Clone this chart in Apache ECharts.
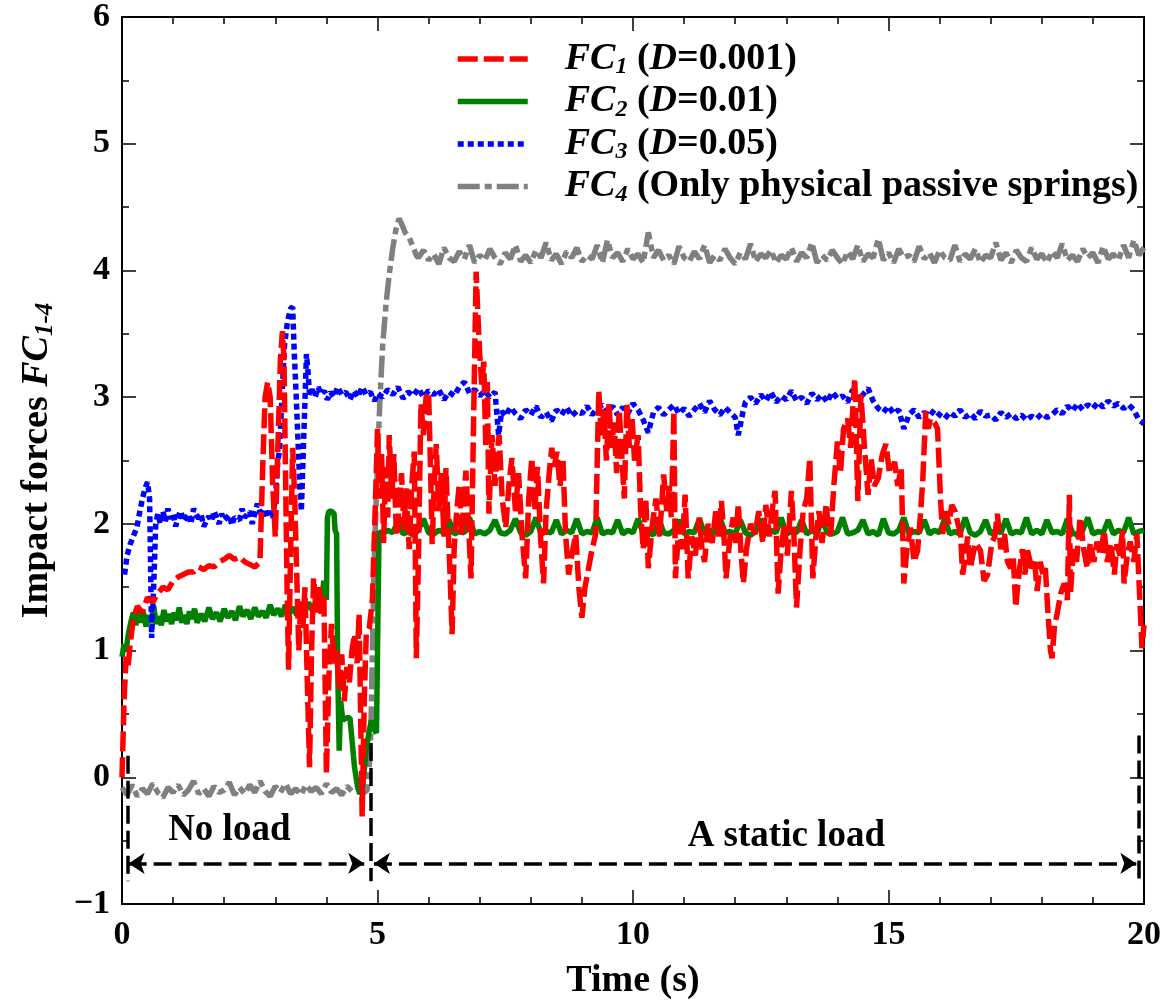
<!DOCTYPE html>
<html>
<head>
<meta charset="utf-8">
<script src="https://cdn.jsdelivr.net/npm/echarts@6/dist/echarts.min.js"></script>
<style>html,body{margin:0;padding:0;background:#fff}#c{width:1164px;height:1005px}</style>
</head>
<body>
<div id="c"></div>
<script>
// ---- data (time s, force) ----
const fc1 = [[0,0.0],[0.04,0.6],[0.08,0.95],[0.12,0.88],[0.16,1.05],[0.22,1.25],[0.3,1.35],[0.4,1.3],[0.5,1.42],[0.6,1.38],[0.7,1.45],[0.8,1.5],[0.9,1.48],[1.0,1.55],[1.1,1.58],[1.2,1.6],[1.3,1.62],[1.4,1.62],[1.5,1.66],[1.6,1.64],[1.7,1.67],[1.8,1.66],[1.9,1.7],[2.0,1.72],[2.1,1.75],[2.2,1.72],[2.3,1.74],[2.4,1.7],[2.5,1.68],[2.6,1.66],[2.7,1.7],[2.75,2.4],[2.8,3.0],[2.85,3.12],[2.9,3.0],[2.95,2.3],[3.0,1.9],[3.05,2.6],[3.1,3.3],[3.14,3.52],[3.17,3.3],[3.2,2.4],[3.23,1.5],[3.26,0.85],[3.3,1.8],[3.34,2.6],[3.38,2.2],[3.42,1.6],[3.46,1.0],[3.5,1.4],[3.54,1.18],[3.58,1.5],[3.63,0.7],[3.67,0.08],[3.71,1.0],[3.75,1.57],[3.8,1.3],[3.85,1.5],[3.9,1.29],[3.95,1.45],[4.0,0.03],[4.05,0.8],[4.1,1.21],[4.15,0.9],[4.2,1.0],[4.25,0.7],[4.3,0.97],[4.35,0.6],[4.4,0.87],[4.45,0.75],[4.5,1.0],[4.55,1.13],[4.6,0.9],[4.64,1.29],[4.7,-0.31],[4.74,0.6],[4.78,1.13],[4.84,1.18],[4.9,1.4],[4.96,2.18],[5.0,2.75],[5.04,2.2],[5.08,2.55],[5.12,1.85],[5.16,2.45],[5.2,2.05],[5.23,2.7],[5.28,2.2],[5.32,2.55],[5.37,1.9],[5.42,2.1],[5.47,2.4],[5.52,1.95],[5.56,2.28],[5.62,1.8],[5.67,2.3],[5.72,2.57],[5.76,0.94],[5.8,1.7],[5.85,2.95],[5.9,2.7],[5.95,3.0],[6.0,3.04],[6.04,2.4],[6.07,1.84],[6.11,2.3],[6.15,2.63],[6.2,2.1],[6.25,2.4],[6.3,1.9],[6.34,2.44],[6.38,2.0],[6.42,1.6],[6.46,1.13],[6.5,1.8],[6.55,2.1],[6.6,2.31],[6.65,1.9],[6.69,2.2],[6.73,2.42],[6.78,2.0],[6.83,1.57],[6.88,2.8],[6.93,3.99],[6.97,3.6],[7.0,3.34],[7.04,3.1],[7.08,3.28],[7.12,2.6],[7.15,3.12],[7.18,2.08],[7.24,2.7],[7.3,2.3],[7.34,2.55],[7.38,2.7],[7.44,2.2],[7.51,1.97],[7.57,2.3],[7.63,2.52],[7.7,2.1],[7.76,2.4],[7.83,1.9],[7.9,1.57],[7.96,2.2],[8.02,2.52],[8.08,2.1],[8.13,2.45],[8.19,1.9],[8.25,1.53],[8.3,2.1],[8.36,2.4],[8.41,2.6],[8.46,2.45],[8.51,2.57],[8.57,2.3],[8.63,2.5],[8.68,1.92],[8.74,1.6],[8.8,1.75],[8.88,1.92],[8.94,1.5],[9.0,1.26],[9.06,1.5],[9.13,1.65],[9.2,1.8],[9.27,1.92],[9.3,2.5],[9.33,3.05],[9.38,2.7],[9.43,2.9],[9.48,2.5],[9.53,2.95],[9.58,2.6],[9.63,2.8],[9.68,2.4],[9.73,2.9],[9.78,2.55],[9.83,2.2],[9.88,2.95],[9.93,2.6],[9.98,2.85],[10.03,2.5],[10.1,2.7],[10.15,2.1],[10.2,1.8],[10.25,2.2],[10.3,1.65],[10.38,2.0],[10.45,2.2],[10.52,1.9],[10.6,2.39],[10.66,2.1],[10.71,2.3],[10.75,2.05],[10.8,2.89],[10.83,1.57],[10.9,2.0],[10.96,1.8],[11.02,2.23],[11.08,1.57],[11.15,1.9],[11.22,1.75],[11.3,2.05],[11.35,1.8],[11.4,1.7],[11.47,2.0],[11.55,1.85],[11.62,2.1],[11.68,1.9],[11.73,2.18],[11.78,1.9],[11.82,1.57],[11.9,1.9],[11.96,2.05],[12.01,1.85],[12.06,2.16],[12.11,1.8],[12.16,1.53],[12.22,1.8],[12.3,2.0],[12.39,1.92],[12.46,2.1],[12.54,1.85],[12.6,2.15],[12.67,1.9],[12.72,2.1],[12.78,2.26],[12.84,1.45],[12.9,1.8],[12.96,2.0],[13.02,1.75],[13.1,2.26],[13.15,1.9],[13.2,1.34],[13.27,1.8],[13.33,2.1],[13.4,2.2],[13.46,2.52],[13.52,1.57],[13.58,1.9],[13.64,2.1],[13.7,1.85],[13.78,2.16],[13.83,1.92],[13.87,1.92],[13.93,2.3],[14.0,2.65],[14.06,2.4],[14.12,2.75],[14.2,2.83],[14.26,2.6],[14.3,2.9],[14.34,3.15],[14.4,2.18],[14.46,3.02],[14.53,2.6],[14.6,2.23],[14.66,2.52],[14.72,2.3],[14.8,2.36],[14.88,2.55],[14.95,2.63],[15.02,2.4],[15.12,2.49],[15.18,2.3],[15.25,2.44],[15.3,1.53],[15.36,1.8],[15.43,1.97],[15.5,1.7],[15.57,1.79],[15.63,2.1],[15.67,2.34],[15.73,2.89],[15.78,2.75],[15.82,2.83],[15.9,2.8],[15.96,2.75],[16.02,2.18],[16.06,1.92],[16.12,2.1],[16.18,2.0],[16.24,2.15],[16.3,2.1],[16.36,2.0],[16.41,1.92],[16.45,1.6],[16.49,1.7],[16.55,1.9],[16.6,1.65],[16.7,1.85],[16.8,1.79],[16.87,1.55],[16.94,1.6],[17.02,1.85],[17.08,1.9],[17.13,2.08],[17.2,1.8],[17.27,1.92],[17.33,1.7],[17.39,1.65],[17.44,1.75],[17.49,1.34],[17.55,1.6],[17.62,1.8],[17.67,1.6],[17.72,1.79],[17.8,1.65],[17.86,1.7],[17.91,1.47],[17.97,1.7],[18.02,1.6],[18.07,1.65],[18.12,1.3],[18.17,1.0],[18.2,0.94],[18.25,1.2],[18.3,1.29],[18.37,1.45],[18.44,1.53],[18.5,1.4],[18.54,2.23],[18.56,1.45],[18.62,1.8],[18.68,1.7],[18.75,2.05],[18.82,1.8],[18.89,1.65],[18.95,1.85],[19.02,1.7],[19.08,1.86],[19.15,1.75],[19.22,1.95],[19.28,1.7],[19.35,1.85],[19.42,1.6],[19.47,1.84],[19.53,1.75],[19.58,1.95],[19.61,1.53],[19.67,1.75],[19.73,1.86],[19.8,1.7],[19.86,1.92],[19.92,1.39],[19.96,1.02],[20.0,1.2]];

const fc2 = [[0,0.95],[0.04,1.05],[0.08,1.0],[0.12,1.12],[0.17,1.22],[0.22,1.3],[0.27,1.2],[0.32,1.33],[0.37,1.22],[0.42,1.3],[0.47,1.19],[0.52,1.28],[0.57,1.22],[0.62,1.35],[0.67,1.21],[0.72,1.27],[0.77,1.2],[0.82,1.32],[0.87,1.23],[0.92,1.29],[0.97,1.21],[1.02,1.3],[1.07,1.24],[1.12,1.34],[1.17,1.22],[1.22,1.28],[1.27,1.21],[1.32,1.31],[1.37,1.25],[1.42,1.33],[1.47,1.22],[1.55,1.29],[1.62,1.23],[1.7,1.34],[1.77,1.25],[1.85,1.3],[1.92,1.23],[2.0,1.33],[2.07,1.26],[2.15,1.31],[2.22,1.24],[2.3,1.35],[2.37,1.27],[2.45,1.32],[2.52,1.25],[2.6,1.34],[2.67,1.27],[2.75,1.31],[2.82,1.26],[2.9,1.36],[2.97,1.28],[3.05,1.33],[3.12,1.27],[3.2,1.36],[3.27,1.29],[3.35,1.34],[3.42,1.28],[3.5,1.37],[3.57,1.3],[3.65,1.38],[3.72,1.32],[3.8,1.39],[3.86,1.33],[3.9,1.38],[3.95,1.55],[4.0,1.4],[4.02,2.05],[4.05,2.1],[4.1,2.1],[4.15,2.08],[4.17,1.95],[4.2,1.92],[4.22,0.9],[4.25,0.21],[4.28,0.6],[4.32,0.45],[4.4,0.47],[4.46,0.47],[4.5,0.3],[4.55,0.08],[4.6,-0.05],[4.65,-0.13],[4.7,-0.1],[4.75,0.1],[4.78,0.21],[4.83,0.35],[4.88,0.45],[4.93,0.38],[4.98,0.35],[5.0,1.0],[5.03,1.94],[5.1,1.92],[5.2,1.95],[5.3,1.93],[5.4,2.02],[5.5,1.92],[5.6,1.94],[5.7,1.91],[5.8,1.95],[5.9,2.04],[6.0,1.93],[6.1,1.92],[6.2,1.95],[6.3,1.93],[6.4,2.03],[6.5,1.92],[6.6,1.94],[6.7,1.93],[6.8,2.05],[6.9,1.92],[7.0,1.94],[7.1,1.92],[7.2,1.95],[7.3,2.03],[7.4,1.93],[7.5,1.92],[7.6,1.95],[7.7,2.04],[7.8,1.93],[7.9,1.91],[8.0,1.94],[8.1,2.05],[8.2,1.92],[8.3,1.94],[8.4,1.93],[8.5,2.03],[8.6,1.92],[8.7,1.95],[8.8,1.93],[8.9,2.04],[9.0,1.92],[9.1,1.94],[9.2,1.93],[9.3,2.05],[9.4,1.92],[9.5,1.94],[9.6,1.93],[9.7,2.03],[9.8,1.92],[9.9,1.95],[10.0,1.93],[10.1,2.04],[10.2,1.92],[10.3,1.94],[10.4,1.91],[10.5,2.05],[10.6,1.93],[10.7,1.92],[10.8,1.95],[10.9,2.03],[11.0,1.92],[11.1,1.94],[11.2,1.93],[11.3,2.04],[11.4,1.92],[11.5,1.95],[11.6,1.92],[11.7,2.05],[11.8,1.93],[11.9,1.94],[12.0,1.92],[12.1,2.03],[12.2,1.93],[12.3,1.91],[12.4,1.94],[12.5,2.04],[12.6,1.92],[12.7,1.95],[12.8,1.93],[12.9,2.05],[13.0,1.92],[13.1,1.94],[13.2,1.93],[13.3,2.03],[13.4,1.92],[13.5,1.95],[13.6,1.92],[13.7,2.04],[13.8,1.93],[13.9,1.92],[14.0,1.94],[14.1,2.05],[14.2,1.92],[14.3,1.93],[14.4,1.95],[14.5,2.03],[14.6,1.92],[14.7,1.94],[14.8,1.91],[14.9,2.04],[15.0,1.93],[15.1,1.92],[15.2,1.95],[15.3,2.05],[15.4,1.92],[15.5,1.94],[15.6,1.93],[15.7,2.03],[15.8,1.92],[15.9,1.95],[16.0,1.93],[16.1,2.04],[16.2,1.92],[16.3,1.94],[16.4,1.92],[16.5,2.05],[16.6,1.93],[16.7,1.91],[16.8,1.94],[16.9,2.03],[17.0,1.92],[17.1,1.95],[17.2,1.93],[17.3,2.04],[17.4,1.92],[17.5,1.94],[17.6,1.93],[17.7,2.05],[17.8,1.92],[17.9,1.95],[18.0,1.92],[18.1,2.03],[18.2,1.93],[18.3,1.94],[18.4,1.92],[18.5,2.04],[18.6,1.93],[18.7,1.91],[18.8,1.95],[18.9,2.05],[19.0,1.92],[19.1,1.94],[19.2,1.93],[19.3,2.03],[19.4,1.92],[19.5,1.95],[19.6,1.93],[19.7,2.05],[19.8,1.92],[19.9,1.94],[20.0,1.95]];

const fc3 = [[0.05,1.6],[0.1,1.75],[0.16,1.84],[0.22,1.9],[0.29,1.97],[0.35,2.1],[0.4,2.2],[0.45,2.28],[0.5,2.33],[0.54,2.2],[0.58,1.1],[0.62,1.5],[0.66,2.0],[0.7,2.08],[0.75,2.0],[0.8,2.1],[0.85,2.02],[0.9,2.12],[0.95,2.04],[1.0,2.08],[1.05,1.98],[1.1,2.06],[1.15,2.1],[1.2,2.02],[1.3,2.08],[1.35,2.0],[1.4,2.12],[1.5,2.04],[1.55,2.07],[1.6,1.98],[1.7,2.06],[1.75,2.02],[1.8,2.1],[1.9,2.0],[1.95,2.08],[2.0,2.03],[2.1,2.07],[2.15,1.99],[2.2,2.05],[2.3,2.03],[2.35,2.12],[2.4,2.05],[2.5,2.1],[2.55,2.0],[2.6,2.08],[2.65,2.16],[2.7,2.1],[2.75,2.05],[2.8,2.12],[2.85,2.05],[2.9,2.1],[2.95,2.05],[3.0,2.2],[3.05,2.5],[3.08,2.57],[3.13,3.0],[3.18,3.41],[3.24,3.6],[3.3,3.7],[3.34,3.71],[3.37,3.36],[3.41,3.0],[3.44,2.7],[3.48,2.3],[3.51,2.1],[3.55,2.6],[3.61,3.34],[3.64,3.2],[3.67,3.02],[3.72,3.06],[3.78,3.0],[3.84,3.08],[3.9,3.02],[3.96,3.05],[4.02,2.98],[4.08,3.04],[4.15,3.0],[4.22,3.08],[4.3,3.02],[4.38,3.04],[4.46,2.98],[4.54,3.05],[4.62,3.0],[4.7,3.08],[4.78,3.02],[4.86,3.04],[4.94,2.97],[5.0,3.03],[5.1,3.0],[5.2,3.06],[5.3,3.02],[5.4,3.08],[5.5,2.99],[5.6,3.04],[5.7,3.01],[5.8,3.07],[5.9,3.0],[6.0,3.05],[6.1,3.02],[6.2,3.06],[6.3,2.98],[6.4,3.04],[6.5,3.01],[6.6,3.08],[6.7,3.12],[6.8,3.03],[6.9,3.06],[7.0,3.01],[7.1,3.05],[7.2,3.0],[7.3,3.04],[7.37,2.7],[7.43,2.89],[7.5,2.85],[7.6,2.92],[7.7,2.87],[7.8,2.83],[7.9,2.9],[8.0,2.86],[8.1,2.93],[8.2,2.84],[8.3,2.88],[8.4,2.81],[8.5,2.9],[8.6,2.86],[8.7,2.92],[8.8,2.85],[8.9,2.89],[9.0,2.87],[9.1,2.93],[9.2,2.86],[9.3,2.91],[9.4,2.94],[9.5,2.88],[9.6,2.93],[9.7,2.86],[9.8,2.92],[9.9,2.87],[10.0,2.95],[10.1,2.9],[10.2,2.82],[10.3,2.72],[10.4,2.88],[10.5,2.92],[10.6,2.86],[10.7,2.9],[10.8,2.94],[10.9,2.87],[11.0,2.91],[11.1,2.85],[11.2,2.9],[11.3,2.95],[11.4,2.88],[11.5,2.97],[11.6,2.9],[11.7,2.86],[11.8,2.92],[11.9,2.88],[12.0,2.84],[12.06,2.7],[12.15,2.88],[12.2,2.96],[12.3,3.0],[12.4,2.95],[12.5,3.02],[12.6,2.97],[12.7,3.04],[12.8,2.96],[12.9,3.01],[13.0,2.98],[13.1,3.05],[13.2,2.97],[13.3,3.0],[13.4,2.95],[13.5,3.03],[13.6,2.98],[13.7,3.02],[13.8,2.96],[13.9,3.04],[14.0,2.99],[14.1,3.01],[14.2,2.96],[14.3,3.06],[14.4,2.98],[14.5,3.02],[14.6,3.07],[14.7,2.97],[14.8,2.91],[14.9,2.88],[15.0,2.93],[15.1,2.87],[15.2,2.9],[15.3,2.75],[15.4,2.86],[15.5,2.9],[15.6,2.84],[15.7,2.88],[15.8,2.85],[15.9,2.9],[16.0,2.86],[16.1,2.83],[16.2,2.88],[16.3,2.85],[16.4,2.9],[16.5,2.84],[16.6,2.87],[16.7,2.83],[16.8,2.89],[16.9,2.85],[17.0,2.86],[17.1,2.82],[17.2,2.88],[17.3,2.84],[17.4,2.87],[17.5,2.83],[17.6,2.86],[17.7,2.82],[17.8,2.85],[17.9,2.83],[18.0,2.87],[18.1,2.84],[18.2,2.86],[18.3,2.9],[18.4,2.87],[18.5,2.93],[18.6,2.89],[18.7,2.95],[18.8,2.9],[18.9,2.94],[19.0,2.91],[19.1,2.96],[19.2,2.92],[19.3,2.97],[19.4,2.93],[19.5,2.95],[19.6,2.91],[19.7,2.94],[19.8,2.9],[19.9,2.82],[20.0,2.79]];

const fc4 = [[0.0,-0.08],[0.1,-0.14],[0.2,-0.06],[0.3,-0.15],[0.4,-0.09],[0.5,-0.13],[0.6,-0.05],[0.7,-0.12],[0.8,-0.16],[0.9,-0.08],[1.0,-0.12],[1.1,-0.06],[1.2,-0.14],[1.3,-0.1],[1.4,-0.03],[1.5,-0.13],[1.6,-0.09],[1.7,-0.15],[1.8,-0.07],[1.9,-0.12],[2.0,-0.1],[2.1,-0.04],[2.2,-0.14],[2.3,-0.08],[2.4,-0.13],[2.5,-0.06],[2.6,-0.12],[2.7,-0.03],[2.8,-0.11],[2.9,-0.15],[3.0,-0.07],[3.1,-0.12],[3.2,-0.05],[3.3,-0.13],[3.4,-0.09],[3.5,-0.14],[3.6,-0.06],[3.7,-0.11],[3.8,-0.08],[3.9,-0.13],[4.0,-0.05],[4.1,-0.12],[4.2,-0.09],[4.3,-0.14],[4.4,-0.07],[4.5,-0.11],[4.6,-0.08],[4.7,-0.13],[4.8,-0.1],[4.84,0.1],[4.87,0.35],[4.9,1.0],[4.93,1.6],[4.96,2.0],[5.0,2.5],[5.05,3.0],[5.1,3.4],[5.17,3.75],[5.23,3.97],[5.3,4.18],[5.36,4.32],[5.42,4.41],[5.48,4.36],[5.54,4.3],[5.62,4.26],[5.7,4.18],[5.76,4.12],[5.8,4.1],[5.9,4.16],[6.0,4.08],[6.1,4.13],[6.2,4.05],[6.3,4.18],[6.4,4.1],[6.5,4.07],[6.6,4.15],[6.7,4.09],[6.8,4.2],[6.9,4.06],[7.0,4.12],[7.1,4.08],[7.2,4.17],[7.3,4.1],[7.4,4.05],[7.5,4.14],[7.6,4.09],[7.7,4.2],[7.8,4.07],[7.9,4.12],[8.0,4.06],[8.1,4.16],[8.2,4.1],[8.3,4.22],[8.4,4.08],[8.5,4.13],[8.6,4.05],[8.7,4.15],[8.8,4.1],[8.9,4.18],[9.0,4.07],[9.1,4.12],[9.2,4.09],[9.3,4.2],[9.4,4.06],[9.5,4.24],[9.6,4.1],[9.7,4.14],[9.8,4.07],[9.9,4.17],[10.0,4.09],[10.1,4.13],[10.2,4.06],[10.3,4.3],[10.4,4.1],[10.5,4.16],[10.6,4.08],[10.7,4.12],[10.8,4.05],[10.9,4.19],[11.0,4.1],[11.1,4.07],[11.2,4.15],[11.3,4.09],[11.4,4.2],[11.5,4.06],[11.6,4.12],[11.7,4.08],[11.8,4.17],[11.9,4.1],[12.0,4.05],[12.1,4.14],[12.2,4.09],[12.3,4.21],[12.4,4.07],[12.5,4.13],[12.6,4.1],[12.7,4.16],[12.8,4.06],[12.9,4.12],[13.0,4.09],[13.1,4.18],[13.2,4.07],[13.3,4.14],[13.4,4.1],[13.5,4.22],[13.6,4.06],[13.7,4.12],[13.8,4.08],[13.9,4.16],[14.0,4.1],[14.1,4.05],[14.2,4.15],[14.3,4.09],[14.4,4.2],[14.5,4.07],[14.6,4.13],[14.7,4.1],[14.8,4.25],[14.9,4.08],[15.0,4.14],[15.1,4.06],[15.2,4.17],[15.3,4.1],[15.4,4.12],[15.5,4.07],[15.6,4.19],[15.7,4.09],[15.8,4.14],[15.9,4.06],[16.0,4.16],[16.1,4.1],[16.2,4.08],[16.3,4.2],[16.4,4.07],[16.5,4.13],[16.6,4.09],[16.7,4.17],[16.8,4.06],[16.9,4.12],[17.0,4.1],[17.1,4.22],[17.2,4.08],[17.3,4.14],[17.4,4.06],[17.5,4.16],[17.6,4.1],[17.7,4.07],[17.8,4.18],[17.9,4.09],[18.0,4.13],[18.1,4.06],[18.2,4.15],[18.3,4.1],[18.4,4.21],[18.5,4.08],[18.6,4.12],[18.7,4.07],[18.8,4.17],[18.9,4.1],[19.0,4.14],[19.1,4.06],[19.2,4.19],[19.3,4.09],[19.4,4.13],[19.5,4.08],[19.6,4.2],[19.7,4.1],[19.8,4.24],[19.9,4.12],[20.0,4.18]];

// annotation geometry in data units
const vLines = [[0.12, 0.17, -0.82], [4.87, 0.27, -0.82], [19.9, 0.33, -0.82]];
const arrows = [[0.13, 4.74, -0.68], [4.93, 19.85, -0.68]];
const notes = [['No load', 2.1, -0.42], ['A static load', 13.0, -0.47]];

const FONT = '"Liberation Serif","Times New Roman",serif';
const chart = echarts.init(document.getElementById('c'), null, {renderer: 'canvas'});

const axisLine = {show: true, onZero: false, lineStyle: {color: '#000', width: 2}};
const tickStyle = {color: '#000', width: 1.5};
const labelStyle = {fontFamily: FONT, fontSize: 34, fontWeight: 'bold', color: '#000'};
const richBase = {
  n: {fontFamily: FONT, fontSize: 38, fontWeight: 'bold', color: '#000', lineHeight: 40, verticalAlign: 'middle'},
  i: {fontFamily: FONT, fontSize: 38, fontWeight: 'bold', fontStyle: 'italic', color: '#000', lineHeight: 40, verticalAlign: 'middle'},
  s: {fontFamily: FONT, fontSize: 24, fontWeight: 'bold', fontStyle: 'italic', color: '#000', lineHeight: 22, verticalAlign: 'bottom'},
  sp: {width: 32, lineHeight: 40}
};
const legendText = {
  FC1: '{sp| }{i|FC}{s|1}{n| (}{i|D}{n|=0.001)}',
  FC2: '{sp| }{i|FC}{s|2}{n| (}{i|D}{n|=0.01)}',
  FC3: '{sp| }{i|FC}{s|3}{n| (}{i|D}{n|=0.05)}',
  FC4: '{sp| }{i|FC}{s|4}{n| (Only physical passive springs)}'
};

function mkX(pos, showLabel) {
  return {
    type: 'value', min: 0, max: 20, interval: 5, position: pos,
    axisLine: axisLine,
    axisTick: {show: true, inside: true, length: 14, lineStyle: tickStyle},
    minorTick: {show: true, splitNumber: 5, length: 7, lineStyle: tickStyle},
    splitLine: {show: false}, minorSplitLine: {show: false},
    axisLabel: Object.assign({show: showLabel, margin: 14}, labelStyle),
    name: showLabel ? 'Time (s)' : '', nameLocation: 'middle', nameGap: 58,
    nameTextStyle: {fontFamily: FONT, fontSize: 38, fontWeight: 'bold', color: '#000'}
  };
}
function mkY(pos, showLabel) {
  return {
    type: 'value', min: -1, max: 6, interval: 1, position: pos,
    axisLine: axisLine,
    axisTick: {show: true, inside: true, length: 14, lineStyle: tickStyle},
    minorTick: {show: true, splitNumber: 2, length: 7, lineStyle: tickStyle},
    splitLine: {show: false}, minorSplitLine: {show: false},
    axisLabel: Object.assign({show: showLabel, margin: 12, formatter: v => (v < 0 ? '\u2212' + Math.abs(v) : String(v))}, labelStyle),
    name: showLabel ? '{n|Impact forces }{i|FC}{s|1-4}' : '', nameLocation: 'middle', nameGap: 64, nameRotate: 90,
    nameTextStyle: {rich: {
      n: {fontFamily: FONT, fontSize: 38, fontWeight: 'bold', color: '#000', lineHeight: 42, verticalAlign: 'middle'},
      i: {fontFamily: FONT, fontSize: 38, fontWeight: 'bold', fontStyle: 'italic', color: '#000', lineHeight: 42, verticalAlign: 'middle'},
      s: {fontFamily: FONT, fontSize: 25, fontWeight: 'bold', fontStyle: 'italic', color: '#000', lineHeight: 22, verticalAlign: 'bottom'}
    }}
  };
}

function lineSeries(name, data, color, dash, z) {
  return {
    name: name, type: 'line', data: data, xAxisIndex: 0, yAxisIndex: 0,
    showSymbol: false, symbol: 'none', smooth: false, z: z,
    lineStyle: {color: color, width: 5.5, type: dash, cap: 'butt', join: 'bevel'},
    itemStyle: {color: color},
    emphasis: {disabled: true}
  };
}

const markLines = [];
vLines.forEach(v => markLines.push([{coord: [v[0], v[1]], symbol: 'none'}, {coord: [v[0], v[2]], symbol: 'none'}]));
arrows.forEach(a => markLines.push([{coord: [a[0], a[2]], symbol: 'arrow', symbolSize: 16}, {coord: [a[1], a[2]], symbol: 'arrow', symbolSize: 16}]));

const option = {
  animation: false,
  backgroundColor: '#fff',
  grid: {left: 122, right: 17, top: 14, bottom: 101, containLabel: false},
  xAxis: [mkX('bottom', true), mkX('top', false)],
  yAxis: [mkY('left', true), mkY('right', false)],
  legend: {
    orient: 'vertical', left: 450, top: 35, itemWidth: 70, itemHeight: 24, itemGap: 3.5,
    data: ['FC1', 'FC2', 'FC3', 'FC4'],
    formatter: n => legendText[n],
    textStyle: {rich: richBase},
    itemStyle: {opacity: 0},
    lineStyle: {width: 5.5},
    selectedMode: false
  },
  series: [
    lineSeries('FC4', fc4, '#808080', [22, 5, 7, 5], 2),
    lineSeries('FC2', fc2, '#008000', 'solid', 3),
    lineSeries('FC3', fc3, '#0000ff', [6, 4], 4),
    lineSeries('FC1', fc1, '#ff0000', [20, 6], 5),
    {
      name: 'annot', type: 'line', data: [], silent: true, z: 6,
      markLine: {
        silent: true, animation: false, precision: 4,
        label: {show: false},
        lineStyle: {color: '#000', width: 3.5, type: [18, 7]},
        emphasis: {disabled: true},
        data: markLines
      }
    }
  ]
};
chart.setOption(option);

const g = notes.map(nt => {
  const p = chart.convertToPixel({gridIndex: 0}, [nt[1], nt[2]]);
  return {type: 'text', x: p[0], y: p[1], z: 100, style: {text: nt[0], font: 'bold 37px ' + FONT, fill: '#000', align: 'center', verticalAlign: 'middle'}};
});
chart.setOption({graphic: g});
</script>
</body>
</html>
